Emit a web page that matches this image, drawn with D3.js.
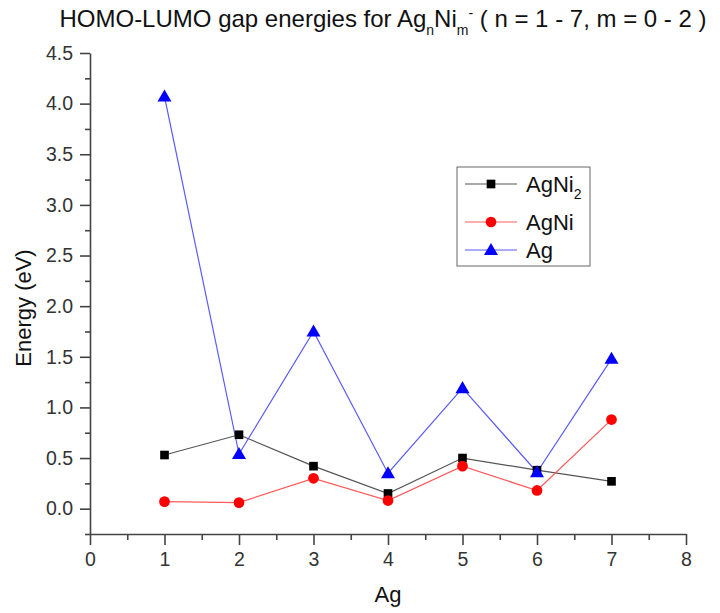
<!DOCTYPE html>
<html>
<head>
<meta charset="utf-8">
<script src="https://cdnjs.cloudflare.com/ajax/libs/d3/7.8.5/d3.min.js"></script>
<style>
  body { margin: 0; background: #fff; }
  text { font-family: "Liberation Sans", Arial, sans-serif; }
</style>
</head>
<body>
<svg id="chart" width="720" height="613"></svg>
<script>
var nAg = [1, 2, 3, 4, 5, 6, 7];
var agNi2 = [0.53, 0.73, 0.42, 0.15, 0.50, 0.38, 0.27];
var agNi = [0.07, 0.06, 0.30, 0.08, 0.42, 0.18, 0.88];
var ag = [4.07, 0.54, 1.75, 0.35, 1.19, 0.36, 1.48];
var xTicks = [0, 1, 2, 3, 4, 5, 6, 7, 8];
var yTicks = [0, 0.5, 1, 1.5, 2, 2.5, 3, 3.5, 4, 4.5];

var svg = d3.select("#chart");
var margin = {top: 53, right: 34, bottom: 79, left: 90},
    width = +svg.attr("width") - margin.left - margin.right,
    height = +svg.attr("height") - margin.top - margin.bottom;

var x = d3.scaleLinear().domain([0, 8]).range([0, width]);
var y = d3.scaleLinear().domain([-0.25, 4.5]).range([height, 0]);

var g = svg.append("g")
  .attr("transform", "translate(" + margin.left + "," + margin.top + ")");

// minor ticks
g.append("g")
  .attr("class", "minor")
  .attr("transform", "translate(0," + height + ")")
  .call(d3.axisBottom(x).tickValues(d3.range(0.5, 8, 1)).tickSize(6).tickFormat(""));
g.append("g")
  .attr("class", "minor")
  .call(d3.axisLeft(y).tickValues(d3.range(-0.25, 4.5, 0.5)).tickSize(5).tickFormat(""));

var xAxis = g.append("g")
  .attr("class", "axis")
  .attr("transform", "translate(0," + height + ")")
  .call(d3.axisBottom(x).tickValues(xTicks).tickSize(11).tickSizeOuter(0).tickPadding(7).tickFormat(d3.format("d")));
var yAxis = g.append("g")
  .attr("class", "axis")
  .call(d3.axisLeft(y).tickValues(yTicks).tickSize(10).tickSizeOuter(0).tickPadding(7).tickFormat(d3.format(".1f")));

svg.selectAll(".minor path").remove();
svg.selectAll(".axis path, .axis line, .minor line")
  .attr("stroke", "#444").attr("stroke-width", 1.6);
[xAxis, yAxis].forEach(function(a) {
  a.attr("font-family", "Liberation Sans, Arial, sans-serif");
  a.selectAll(".tick text")
    .attr("fill", "#333")
    .attr("font-size", 19.5);
});

var series = [
  {name: "AgNi2", values: agNi2, line: "#555", fill: "#000", shape: d3.symbolSquare, size: 75},
  {name: "AgNi", values: agNi, line: "#ff5a5a", fill: "#f00", shape: d3.symbolCircle, size: 90},
  {name: "Ag", values: ag, line: "#5a5aff", fill: "#00f", shape: d3.symbolTriangle, size: 85}
];

var line = d3.line().x(function(d, i){ return x(nAg[i]); }).y(function(d){ return y(d); });

series.forEach(function(s) {
  g.append("path")
    .datum(s.values)
    .attr("fill", "none")
    .attr("stroke", s.line)
    .attr("stroke-width", 1.2)
    .attr("d", line);
});
series.forEach(function(s) {
  g.selectAll(".pt-" + s.name)
    .data(s.values)
    .enter().append("path")
      .attr("transform", function(d, i){
        var dy = s.shape === d3.symbolTriangle ? 1 : 0;
        return "translate(" + x(nAg[i]) + "," + (y(d) + dy) + ")";
      })
      .attr("d", d3.symbol().type(s.shape).size(s.size))
      .attr("fill", s.fill);
});

// title
var title = svg.append("text")
  .attr("x", 383).attr("y", 27)
  .attr("text-anchor", "middle")
  .attr("font-size", 24)
  .attr("fill", "#111");
title.append("tspan").text("HOMO-LUMO gap energies for Ag");
title.append("tspan").attr("font-size", 14).attr("dy", 8).text("n");
title.append("tspan").attr("dy", -8).text("Ni");
title.append("tspan").attr("font-size", 14).attr("dy", 8).text("m");
title.append("tspan").attr("font-size", 14).attr("dy", -17).text("-");
title.append("tspan").attr("dy", 9).text(" ( n = 1 - 7, m = 0 - 2 )");

// axis titles
svg.append("text")
  .attr("transform", "translate(31,308) rotate(-90)")
  .attr("text-anchor", "middle")
  .attr("font-size", 22)
  .attr("fill", "#111")
  .text("Energy (eV)");
svg.append("text")
  .attr("x", margin.left + x(4)).attr("y", 602)
  .attr("text-anchor", "middle")
  .attr("font-size", 22)
  .attr("fill", "#111")
  .text("Ag");

// legend
var legend = svg.append("g").attr("transform", "translate(457,167)");
legend.append("rect")
  .attr("width", 133).attr("height", 99)
  .attr("fill", "#fff").attr("stroke", "#666").attr("stroke-width", 1);
var rowY = [17, 55, 83];
series.forEach(function(s, i) {
  var r = legend.append("g").attr("transform", "translate(0," + rowY[i] + ")");
  r.append("line").attr("x1", 8).attr("x2", 60)
    .attr("stroke", s.line).attr("stroke-width", 1.2);
  r.append("path")
    .attr("transform", "translate(34," + (s.shape === d3.symbolTriangle ? 1 : 0) + ")")
    .attr("d", d3.symbol().type(s.shape).size(s.size))
    .attr("fill", s.fill);
  var t = r.append("text").attr("x", 69).attr("y", 8)
    .attr("font-size", 22).attr("fill", "#111");
  if (s.name === "AgNi2") {
    t.append("tspan").text("AgNi");
    t.append("tspan").attr("font-size", 14).attr("dy", 7).text("2");
  } else {
    t.text(s.name);
  }
});
</script>
</body>
</html>
